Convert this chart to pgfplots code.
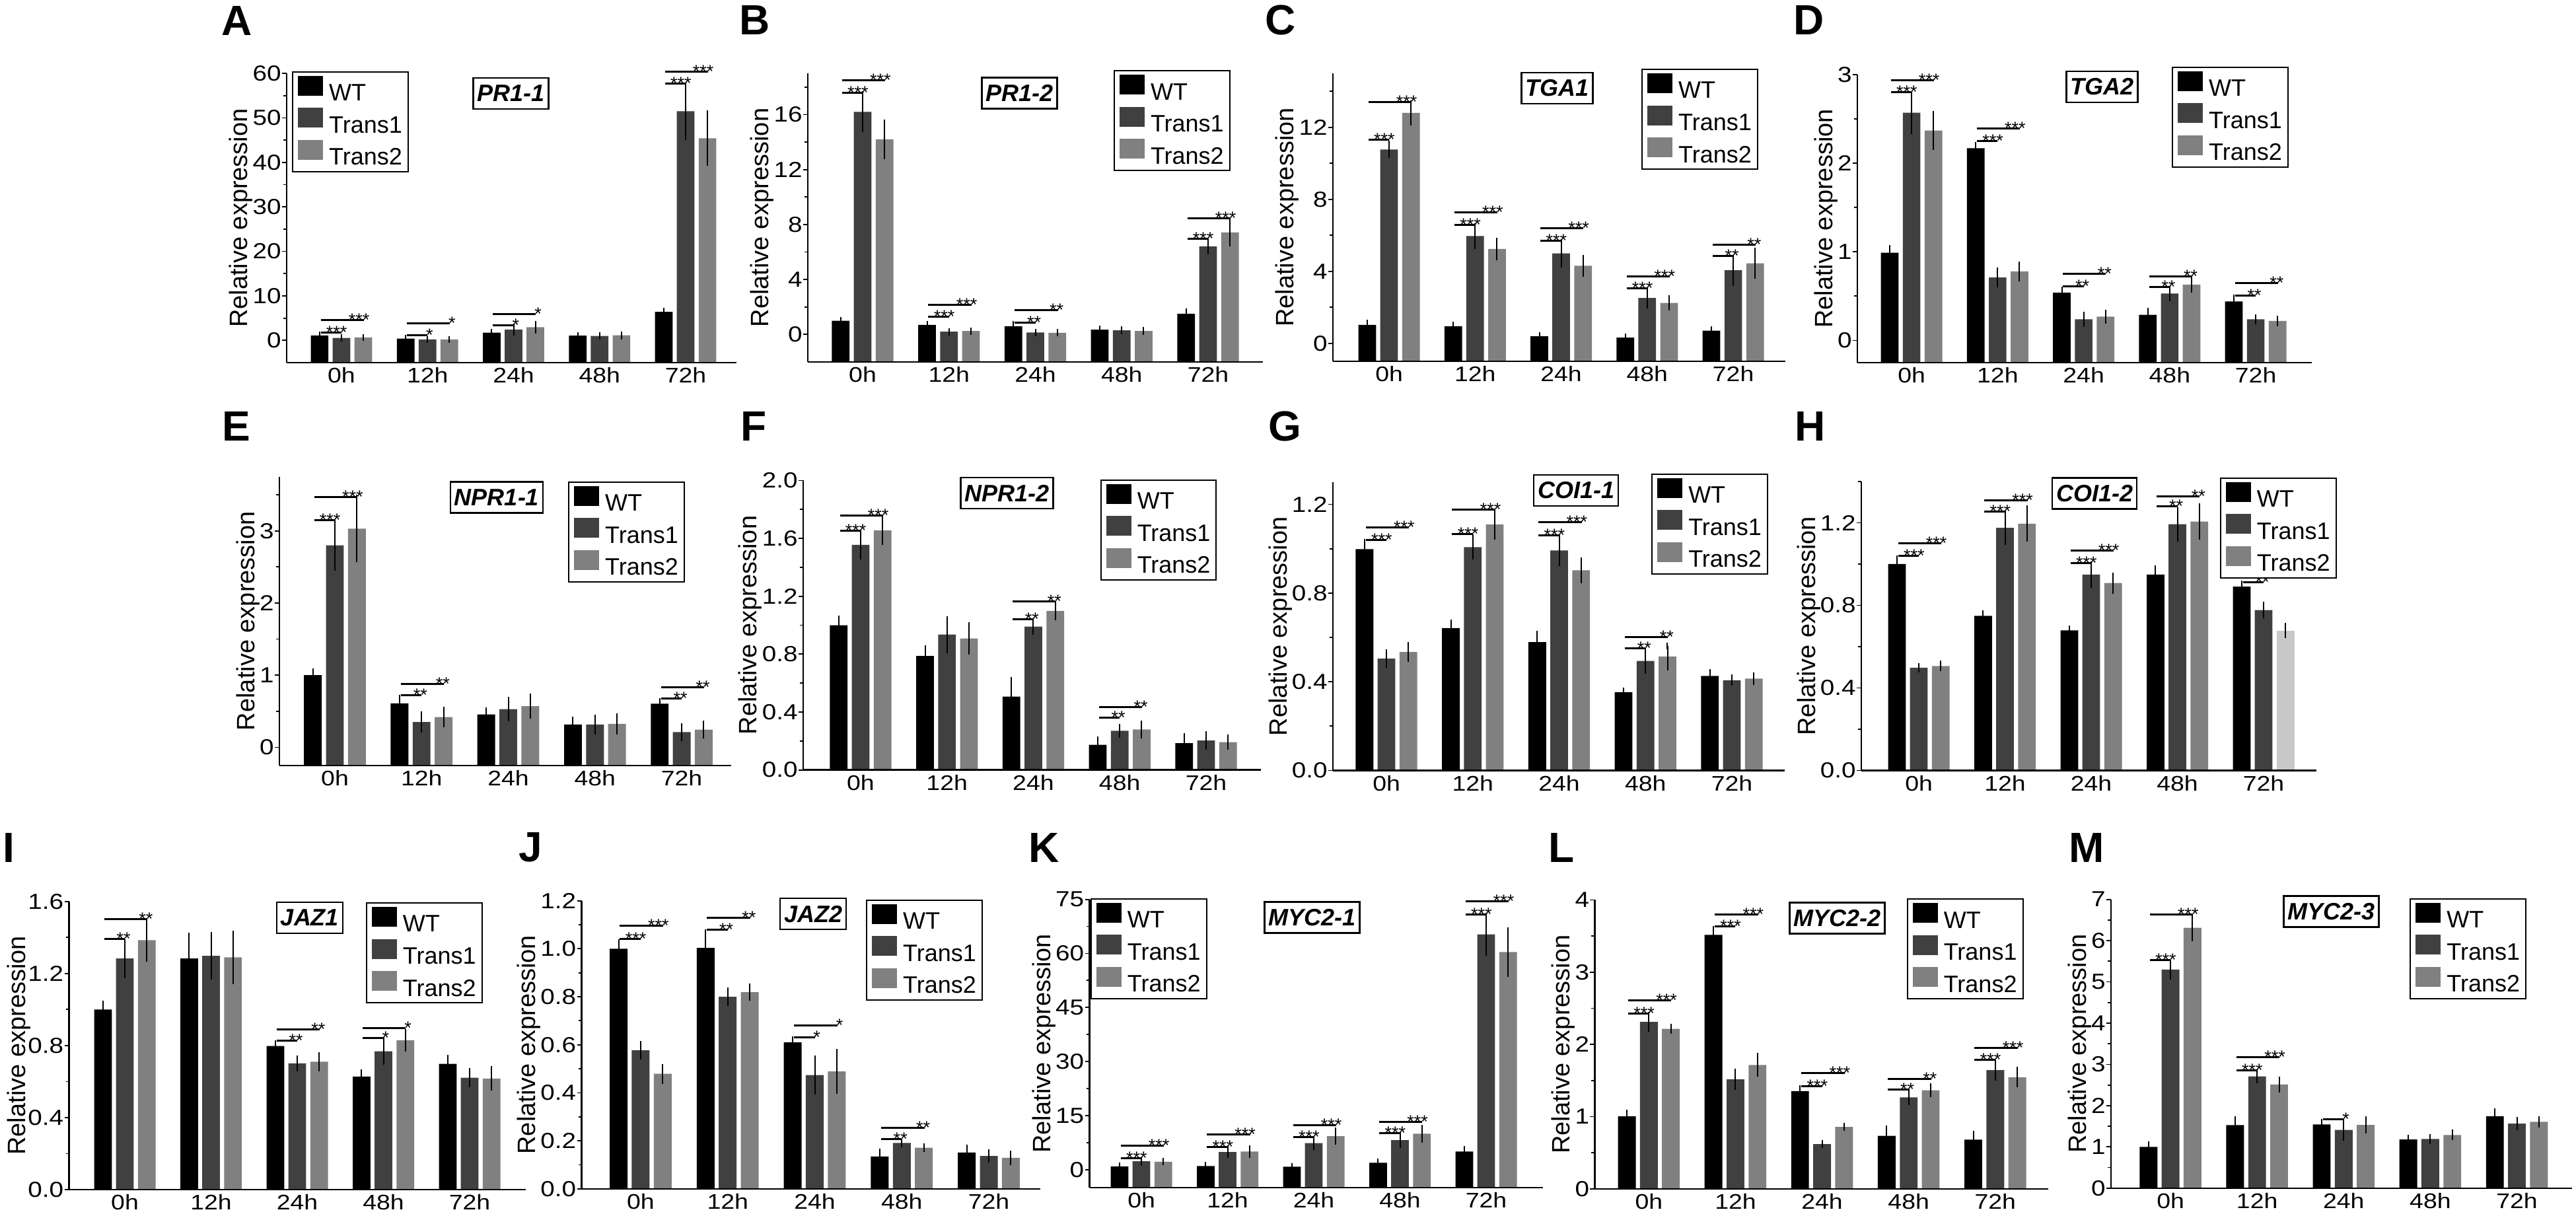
\documentclass[border=0pt]{standalone}
\usepackage{fontspec}
\setmainfont{Liberation Sans}
\newfontfamily\tickfam[FakeStretch=1.17]{Liberation Sans}
\usepackage{pgfplots}
\pgfplotsset{compat=1.18}

\definecolor{cTa}{HTML}{404040}
\definecolor{cTb}{HTML}{808080}
\definecolor{cTc}{HTML}{C8C8C8}

\newcommand\ytfont{\tickfam\fontsize{16.5}{16.5}\selectfont}
\newcommand\xtfont{\tickfam\fontsize{16}{16}\selectfont}
\newcommand\labfont{\fontsize{19}{19}\selectfont}
\newcommand\legfont{\fontsize{18}{18}\selectfont}
\newcommand\genefont{\fontsize{18}{18}\selectfont\bfseries\itshape}
\newcommand\panfont{\fontsize{32}{32}\selectfont\bfseries}
\newcommand\sigfont{\fontsize{13.5}{13.5}\selectfont}

\tikzset{
 sigl/.style={line width=1.5pt, black},
 sigt/.style={anchor=base east, inner sep=0pt, xshift=5pt, yshift=-4.5pt, font=\sigfont},
 gene/.style={draw, line width=1.2pt, font=\genefont, inner xsep=3pt, inner ysep=0pt, minimum height=23.5pt},
 pan/.style={font=\panfont, inner sep=0pt},
}

\newcommand\sig[5]{%
 \draw[sigl] (axis cs:{#1-0.24},{#2+\off}) -- (axis cs:{#1},{#2+\off}) node[sigt]{#3};
 \draw[sigl] (axis cs:{#1-0.24},{#4+\off}) -- (axis cs:{#1+0.26},{#4+\off}) node[sigt]{#5};}
\newcommand\sigs[3]{%
 \draw[sigl] (axis cs:{#1-0.24},{#2+\off}) -- (axis cs:{#1},{#2+\off}) node[sigt]{#3};}

\pgfplotsset{
 panel/.style={
  scale only axis, anchor=south west, axis on top,
  axis lines=left, axis line style={-, line width=1.2pt},
  ybar, bar width=0.205, ymin=0,
  xtick={0,1,2,3,4}, xticklabels={0h,12h,24h,48h,72h},
  xtick style={draw=none},
  tick style={line width=0.9pt, black},
  tick align=outside, major tick length=3.5pt, minor tick length=2.5pt,
  yticklabel style={font=\ytfont, inner sep=0.5pt},
  xticklabel style={font=\xtfont, inner sep=0pt},
  ylabel={Relative expression}, ylabel style={font=\labfont}, ylabel shift=-4pt,
  clip=false,
  legend cell align=left,
  legend image code/.code={\fill[##1] (0pt,-1.5pt) rectangle (19pt,13.5pt);},
  legend style={draw=black, line width=1pt, font=\legfont, anchor=north west,
     inner xsep=4pt, inner ysep=3pt, row sep=3.3pt, column sep=4pt, nodes={inner sep=0.5pt}},
  error bars/y dir=both, error bars/y explicit,
  error bars/error bar style={draw=black, line width=1pt},
  error bars/error mark options={draw=black, line width=1pt, mark size=2.5pt},
  y filter/.expression={y+\off},
 },
 wt/.style={fill=black, draw=none, bar shift=-0.254},
 ta/.style={fill=cTa, draw=none, bar shift=0},
 tb/.style={fill=cTb, draw=none, bar shift=0.254},
}

\begin{document}
\begin{tikzpicture}
\path[use as bounding box] (0pt,0pt) rectangle (1950pt,-921.5pt);

% ---------------- A ----------------
\def\off{5}
\begin{axis}[panel, at={(217pt,-274.5pt)}, width=340.5pt, height=219pt,
  xmin=-0.637, xmax=4.591, ymax=65,
  ytick={5,15,25,35,45,55,65}, yticklabels={0,10,20,30,40,50,60},
  minor ytick={10,20,30,40,50,60}, legend style={at={(0.012,1.007)}}]
\addplot[wt] coordinates {(0,1.1)+-(0,0.08) (1,0.4)+-(0,0.05) (2,1.75)+-(0,0.12) (3,1.05)+-(0,0.1) (4,6.4)+-(0,0.2)};
\addplot[ta] coordinates {(0,0.55)+-(0,0.05) (1,0.2)+-(0,0.03) (2,2.45)+-(0,0.55) (3,1.0)+-(0,0.08) (4,51.5)+-(0,5.7)};
\addplot[tb] coordinates {(0,0.65)+-(0,0.06) (1,0.2)+-(0,0.03) (2,2.95)+-(0,0.7) (3,1.15)+-(0,0.15) (4,45.4)+-(0,5.5)};
\legend{WT,Trans1,Trans2}
\sig{0}{1.7}{***}{4.55}{***}
\sig{1}{1.1}{*}{3.9}{*}
\sig{2}{3.4}{*}{5.85}{*}
\sig{4}{57.7}{***}{60.4}{***}
\end{axis}

% ---------------- B ----------------
\def\off{2}
\begin{axis}[panel, at={(611.5pt,-274pt)}, width=344.5pt, height=218.5pt,
  xmin=-0.635, xmax=4.635, ymax=21,
  ytick={2,6,10,14,18}, yticklabels={0,4,8,12,16},
  minor ytick={4,8,12,16,20}, legend style={at={(0.672,1.011)}}]
\addplot[wt] coordinates {(0,1.0)+-(0,0.05) (1,0.7)+-(0,0.05) (2,0.6)+-(0,0.12) (3,0.35)+-(0,0.04) (4,1.5)+-(0,0.15)};
\addplot[ta] coordinates {(0,16.2)+-(0,1.25) (1,0.2)+-(0,0.03) (2,0.15)+-(0,0.03) (3,0.3)+-(0,0.04) (4,6.4)+-(0,0.35)};
\addplot[tb] coordinates {(0,14.2)+-(0,1.2) (1,0.25)+-(0,0.03) (2,0.12)+-(0,0.02) (3,0.25)+-(0,0.05) (4,7.43)+-(0,0.8)};
\legend{WT,Trans1,Trans2}
\sig{0}{17.6}{***}{18.5}{***}
\sig{1}{1.3}{***}{2.15}{***}
\sig{2}{0.86}{**}{1.78}{**}
\sig{4}{6.97}{***}{8.44}{***}
\end{axis}

% ---------------- C ----------------
\def\off{1}
\begin{axis}[panel, at={(1009pt,-273.5pt)}, width=342.5pt, height=218pt,
  xmin=-0.653, xmax=4.606, ymax=16,
  ytick={1,5,9,13}, yticklabels={0,4,8,12},
  minor ytick={3,7,11,15}, legend style={at={(0.682,1.016)}}]
\addplot[wt] coordinates {(0,1.02)+-(0,0.1) (1,0.95)+-(0,0.08) (2,0.39)+-(0,0.06) (3,0.32)+-(0,0.05) (4,0.7)+-(0,0.08)};
\addplot[ta] coordinates {(0,10.77)+-(0,0.3) (1,5.96)+-(0,0.54) (2,5.0)+-(0,0.6) (3,2.52)+-(0,0.4) (4,4.06)+-(0,0.68)};
\addplot[tb] coordinates {(0,12.8)+-(0,0.5) (1,5.24)+-(0,0.45) (2,4.31)+-(0,0.43) (3,2.24)+-(0,0.23) (4,4.45)+-(0,0.68)};
\legend{WT,Trans1,Trans2}
\sig{0}{11.3}{***}{13.4}{***}
\sig{1}{6.58}{***}{7.27}{***}
\sig{2}{5.7}{***}{6.4}{***}
\sig{3}{3.05}{***}{3.72}{***}
\sig{4}{4.87}{**}{5.47}{**}
\end{axis}

% ---------------- D ----------------
\def\off{0.25}
\begin{axis}[panel, at={(1406pt,-274.5pt)}, width=344pt, height=218pt,
  xmin=-0.630, xmax=4.652, ymax=3.25,
  ytick={0.25,1.25,2.25,3.25}, yticklabels={0,1,2,3},
  minor ytick={0.75,1.75,2.75}, legend style={at={(0.692,1.028)}}]
\addplot[wt] coordinates {(0,0.99)+-(0,0.05) (1,2.17)+-(0,0.03) (2,0.54)+-(0,0.03) (3,0.29)+-(0,0.04) (4,0.44)+-(0,0.04)};
\addplot[ta] coordinates {(0,2.57)+-(0,0.2) (1,0.71)+-(0,0.075) (2,0.24)+-(0,0.05) (3,0.53)+-(0,0.05) (4,0.24)+-(0,0.02)};
\addplot[tb] coordinates {(0,2.37)+-(0,0.18) (1,0.78)+-(0,0.075) (2,0.27)+-(0,0.04) (3,0.63)+-(0,0.05) (4,0.22)+-(0,0.02)};
\legend{WT,Trans1,Trans2}
\sig{0}{2.80}{***}{2.94}{***}
\sig{1}{2.25}{***}{2.39}{***}
\sig{2}{0.61}{**}{0.75}{**}
\sig{3}{0.6}{**}{0.72}{**}
\sig{4}{0.51}{**}{0.65}{**}
\end{axis}

% ---------------- E ----------------
\def\off{0.25}
\begin{axis}[panel, at={(211.5pt,-579.35pt)}, width=342pt, height=218.5pt,
  xmin=-0.640, xmax=4.571, ymax=4.0,
  ytick={0.25,1.25,2.25,3.25}, yticklabels={0,1,2,3},
  minor ytick={0.75,1.75,2.75,3.75}, legend style={at={(0.639,0.984)}}]
\addplot[wt] coordinates {(0,1.0)+-(0,0.05) (1,0.61)+-(0,0.07) (2,0.455)+-(0,0.05) (3,0.315)+-(0,0.06) (4,0.605)+-(0,0.03)};
\addplot[ta] coordinates {(0,2.80)+-(0,0.31) (1,0.35)+-(0,0.1) (2,0.53)+-(0,0.12) (3,0.315)+-(0,0.09) (4,0.21)+-(0,0.08)};
\addplot[tb] coordinates {(0,3.03)+-(0,0.42) (1,0.42)+-(0,0.1) (2,0.57)+-(0,0.13) (3,0.325)+-(0,0.1) (4,0.245)+-(0,0.08)};
\legend{WT,Trans1,Trans2}
\sig{0}{3.15}{***}{3.47}{***}
\sig{1}{0.725}{**}{0.88}{**}
\sig{4}{0.68}{**}{0.83}{**}
\end{axis}

% ---------------- F ----------------
\def\off{0}
\begin{axis}[panel, at={(608pt,-582.8pt)}, width=346.5pt, height=219.1pt,
  xmin=-0.665, xmax=4.635, ymax=2.0,
  ytick={0,0.4,0.8,1.2,1.6,2.0}, yticklabels={0.0,0.4,0.8,1.2,1.6,2.0},
  minor ytick={0.2,0.6,1.0,1.4,1.8}, legend style={at={(0.649,1.004)}}]
\addplot[wt] coordinates {(0,1.0)+-(0,0.045) (1,0.787)+-(0,0.05) (2,0.507)+-(0,0.11) (3,0.174)+-(0,0.035) (4,0.185)+-(0,0.046)};
\addplot[ta] coordinates {(0,1.555)+-(0,0.076) (1,0.936)+-(0,0.105) (2,0.99)+-(0,0.035) (3,0.27)+-(0,0.026) (4,0.203)+-(0,0.04)};
\addplot[tb] coordinates {(0,1.656)+-(0,0.08) (1,0.908)+-(0,0.09) (2,1.099)+-(0,0.044) (3,0.279)+-(0,0.04) (4,0.192)+-(0,0.03)};
\legend{WT,Trans1,Trans2}
\sig{0}{1.652}{***}{1.76}{***}
\sig{2}{1.043}{**}{1.166}{**}
\sig{3}{0.363}{**}{0.436}{**}
\end{axis}

% ---------------- G ----------------
\def\off{0}
\begin{axis}[panel, at={(1009pt,-583.2pt)}, width=342pt, height=218.2pt,
  xmin=-0.620, xmax=4.612, ymax=1.3,
  ytick={0,0.4,0.8,1.2}, yticklabels={0.0,0.4,0.8,1.2},
  minor ytick={0.2,0.6,1.0}, legend style={at={(0.705,1.030)}}]
\addplot[wt] coordinates {(0,0.998)+-(0,0.03) (1,0.642)+-(0,0.023) (2,0.579)+-(0,0.037) (3,0.353)+-(0,0.007) (4,0.426)+-(0,0.016)};
\addplot[ta] coordinates {(0,0.504)+-(0,0.027) (1,1.007)+-(0,0.042) (2,0.992)+-(0,0.054) (3,0.494)+-(0,0.043) (4,0.407)+-(0,0.011)};
\addplot[tb] coordinates {(0,0.534)+-(0,0.03) (1,1.109)+-(0,0.053) (2,0.903)+-(0,0.043) (3,0.514)+-(0,0.047) (4,0.414)+-(0,0.013)};
\legend{WT,Trans1,Trans2}
\sig{0}{1.038}{***}{1.095}{***}
\sig{1}{1.066}{***}{1.175}{***}
\sig{2}{1.06}{***}{1.12}{***}
\sig{3}{0.551}{**}{0.602}{**}
\end{axis}

% ---------------- H ----------------
\def\off{0}
\begin{axis}[panel, at={(1409pt,-583.2pt)}, width=344.5pt, height=218.7pt,
  xmin=-0.667, xmax=4.613, ymax=1.4,
  ytick={0,0.4,0.8,1.2}, yticklabels={0.0,0.4,0.8,1.2},
  minor ytick={0.2,0.6,1.0,1.4}, legend style={at={(0.788,1.014)}}]
\addplot[wt] coordinates {(0,1.0)+-(0,0.025) (1,0.749)+-(0,0.012) (2,0.679)+-(0,0.006) (3,0.949)+-(0,0.03) (4,0.891)+-(0,0.012)};
\addplot[ta] coordinates {(0,0.498)+-(0,0.006) (1,1.176)+-(0,0.067) (2,0.949)+-(0,0.047) (3,1.193)+-(0,0.067) (4,0.777)+-(0,0.024)};
\addplot[tb] coordinates {(0,0.506)+-(0,0.01) (1,1.196)+-(0,0.072) (2,0.908)+-(0,0.035) (3,1.206)+-(0,0.072)};
\addplot[tb, fill=cTc, forget plot] coordinates {(4,0.677)+-(0,0.021)};
\legend{WT,Trans1,Trans2}
\sig{0}{1.04}{***}{1.10}{***}
\sig{1}{1.255}{***}{1.31}{***}
\sig{2}{1.004}{***}{1.065}{***}
\sig{3}{1.279}{**}{1.328}{**}
\sig{4}{0.912}{**}{0.965}{**}
\end{axis}

% ---------------- I ----------------
\def\off{0}
\begin{axis}[panel, at={(52.25pt,-900.5pt)}, width=345.75pt, height=218.15pt,
  xmin=-0.648, xmax=4.651, ymax=1.6, ylabel shift=-6pt,
  ytick={0,0.4,0.8,1.2,1.6}, yticklabels={0.0,0.4,0.8,1.2,1.6},
  minor ytick={0.2,0.6,1.0,1.4}, legend style={at={(0.650,0.997)}}]
\addplot[wt] coordinates {(0,1.0)+-(0,0.032) (1,1.283)+-(0,0.125) (2,0.797)+-(0,0.014) (3,0.628)+-(0,0.021) (4,0.698)+-(0,0.032)};
\addplot[ta] coordinates {(0,1.283)+-(0,0.09) (1,1.298)+-(0,0.115) (2,0.701)+-(0,0.027) (3,0.768)+-(0,0.056) (4,0.621)+-(0,0.035)};
\addplot[tb] coordinates {(0,1.385)+-(0,0.1) (1,1.29)+-(0,0.13) (2,0.71)+-(0,0.034) (3,0.829)+-(0,0.044) (4,0.617)+-(0,0.05)};
\legend{WT,Trans1,Trans2}
\sig{0}{1.392}{**}{1.502}{**}
\sig{2}{0.827}{**}{0.890}{**}
\sig{3}{0.841}{*}{0.897}{*}
\end{axis}

% ---------------- J ----------------
\def\off{0}
\begin{axis}[panel, at={(440.25pt,-899.9pt)}, width=347.25pt, height=218.1pt,
  xmin=-0.679, xmax=4.592, ymax=1.2,
  ytick={0,0.2,0.4,0.6,0.8,1.0,1.2}, yticklabels={0.0,0.2,0.4,0.6,0.8,1.0,1.2},
  minor ytick={0.1,0.3,0.5,0.7,0.9,1.1}, legend style={at={(0.620,1.004)}}]
\addplot[wt] coordinates {(0,1.0)+-(0,0.027) (1,1.003)+-(0,0.065) (2,0.61)+-(0,0.01) (3,0.135)+-(0,0.018) (4,0.151)+-(0,0.02)};
\addplot[ta] coordinates {(0,0.577)+-(0,0.025) (1,0.80)+-(0,0.024) (2,0.474)+-(0,0.068) (3,0.191)+-(0,0.005) (4,0.137)+-(0,0.015)};
\addplot[tb] coordinates {(0,0.479)+-(0,0.027) (1,0.819)+-(0,0.021) (2,0.489)+-(0,0.08) (3,0.171)+-(0,0.005) (4,0.129)+-(0,0.017)};
\legend{WT,Trans1,Trans2}
\sig{0}{1.042}{***}{1.097}{***}
\sig{1}{1.079}{**}{1.128}{**}
\sig{2}{0.632}{*}{0.681}{*}
\sig{3}{0.207}{**}{0.255}{**}
\end{axis}

% ---------------- K ----------------
\def\off{5}
\begin{axis}[panel, at={(824.75pt,-899pt)}, width=343.25pt, height=218.2pt,
  xmin=-0.602, xmax=4.659, ymax=80,
  ytick={5,20,35,50,65,80}, yticklabels={0,15,30,45,60,75},
  minor ytick={12.5,27.5,42.5,57.5,72.5}, legend style={at={(0.002,1.004)}}]
\addplot[wt] coordinates {(0,0.9)+-(0,0.15) (1,1.0)+-(0,0.15) (2,0.8)+-(0,0.15) (3,1.9)+-(0,0.2) (4,5.0)+-(0,0.7)};
\addplot[ta] coordinates {(0,2.3)+-(0,0.25) (1,4.9)+-(0,0.8) (2,7.35)+-(0,1.0) (3,8.2)+-(0,1.25) (4,65.3)+-(0,5.0)};
\addplot[tb] coordinates {(0,2.2)+-(0,0.1) (1,5.0)+-(0,0.8) (2,9.3)+-(0,1.4) (3,9.95)+-(0,1.5) (4,60.4)+-(0,6.0)};
\legend{WT,Trans1,Trans2}
\sig{0}{3.15}{***}{6.65}{***}
\sig{1}{6.3}{***}{9.8}{***}
\sig{2}{9.0}{***}{12.25}{***}
\sig{3}{10.2}{***}{13.3}{***}
\sig{4}{70.9}{***}{74.4}{***}
\end{axis}

% ---------------- L ----------------
\def\off{0}
\begin{axis}[panel, at={(1207.2pt,-899.9pt)}, width=343.3pt, height=218.7pt,
  xmin=-0.625, xmax=4.612, ymax=4,
  ytick={0,1,2,3,4}, yticklabels={0,1,2,3,4},
  minor ytick={0.5,1.5,2.5,3.5}, legend style={at={(0.688,1.005)}}]
\addplot[wt] coordinates {(0,1.004)+-(0,0.05) (1,3.517)+-(0,0.08) (2,1.354)+-(0,0.035) (3,0.734)+-(0,0.1) (4,0.682)+-(0,0.08)};
\addplot[ta] coordinates {(0,2.31)+-(0,0.09) (1,1.515)+-(0,0.1) (2,0.619)+-(0,0.012) (3,1.267)+-(0,0.065) (4,1.644)+-(0,0.1)};
\addplot[tb] coordinates {(0,2.215)+-(0,0.02) (1,1.715)+-(0,0.12) (2,0.857)+-(0,0.01) (3,1.364)+-(0,0.05) (4,1.546)+-(0,0.095)};
\legend{WT,Trans1,Trans2}
\sig{0}{2.43}{***}{2.607}{***}
\sig{1}{3.63}{***}{3.80}{***}
\sig{2}{1.425}{***}{1.60}{***}
\sig{3}{1.375}{**}{1.52}{**}
\sig{4}{1.784}{***}{1.949}{***}
\end{axis}

% ---------------- M ----------------
\def\off{0}
\begin{axis}[panel, at={(1598pt,-899.35pt)}, width=349pt, height=218.55pt,
  xmin=-0.687, xmax=4.637, ymax=7,
  ytick={0,1,2,3,4,5,6,7}, yticklabels={0,1,2,3,4,5,6,7},
  minor ytick={0.5,1.5,2.5,3.5,4.5,5.5,6.5}, legend style={at={(0.648,1.004)}}]
\addplot[wt] coordinates {(0,1.0)+-(0,0.05) (1,1.526)+-(0,0.14) (2,1.545)+-(0,0.06) (3,1.177)+-(0,0.03) (4,1.742)+-(0,0.11)};
\addplot[ta] coordinates {(0,5.30)+-(0,0.16) (1,2.71)+-(0,0.09) (2,1.41)+-(0,0.18) (3,1.19)+-(0,0.045) (4,1.563)+-(0,0.075)};
\addplot[tb] coordinates {(0,6.31)+-(0,0.25) (1,2.513)+-(0,0.11) (2,1.533)+-(0,0.13) (3,1.288)+-(0,0.05) (4,1.606)+-(0,0.06)};
\legend{WT,Trans1,Trans2}
\sig{0}{5.53}{***}{6.63}{***}
\sig{1}{2.86}{***}{3.18}{***}
\sigs{2}{1.667}{*}
\end{axis}

% ---------------- gene names ----------------
\node[gene] at (386.75pt,-70.75pt) {PR1-1};
\node[gene] at (771.75pt,-70.5pt) {PR1-2};
\node[gene] at (1178.75pt,-66.75pt) {TGA1};
\node[gene] at (1591.25pt,-65.75pt) {TGA2};
\node[gene] at (376pt,-376.5pt) {NPR1-1};
\node[gene] at (762.25pt,-373.25pt) {NPR1-2};
\node[gene] at (1193pt,-371.25pt) {COI1-1};
\node[gene] at (1585.5pt,-373.5pt) {COI1-2};
\node[gene] at (234.5pt,-694.75pt) {JAZ1};
\node[gene] at (615.5pt,-691.8pt) {JAZ2};
\node[gene] at (993.25pt,-694.5pt) {MYC2-1};
\node[gene] at (1390.75pt,-695pt) {MYC2-2};
\node[gene] at (1764.75pt,-690pt) {MYC2-3};

% ---------------- panel letters ----------------
\node[pan] at (179.5pt,-15.5pt) {A};
\node[pan] at (571.5pt,-15pt) {B};
\node[pan] at (969.5pt,-15pt) {C};
\node[pan] at (1369.5pt,-15pt) {D};
\node[pan] at (179pt,-322.5pt) {E};
\node[pan] at (570.5pt,-322.5pt) {F};
\node[pan] at (972.5pt,-322.5pt) {G};
\node[pan] at (1370.5pt,-322.5pt) {H};
\node[pan] at (6.5pt,-641.5pt) {I};
\node[pan] at (401.5pt,-641.5pt) {J};
\node[pan] at (790.5pt,-641.5pt) {K};
\node[pan] at (1182pt,-641.5pt) {L};
\node[pan] at (1579.5pt,-641.5pt) {M};
\end{tikzpicture}
\end{document}
